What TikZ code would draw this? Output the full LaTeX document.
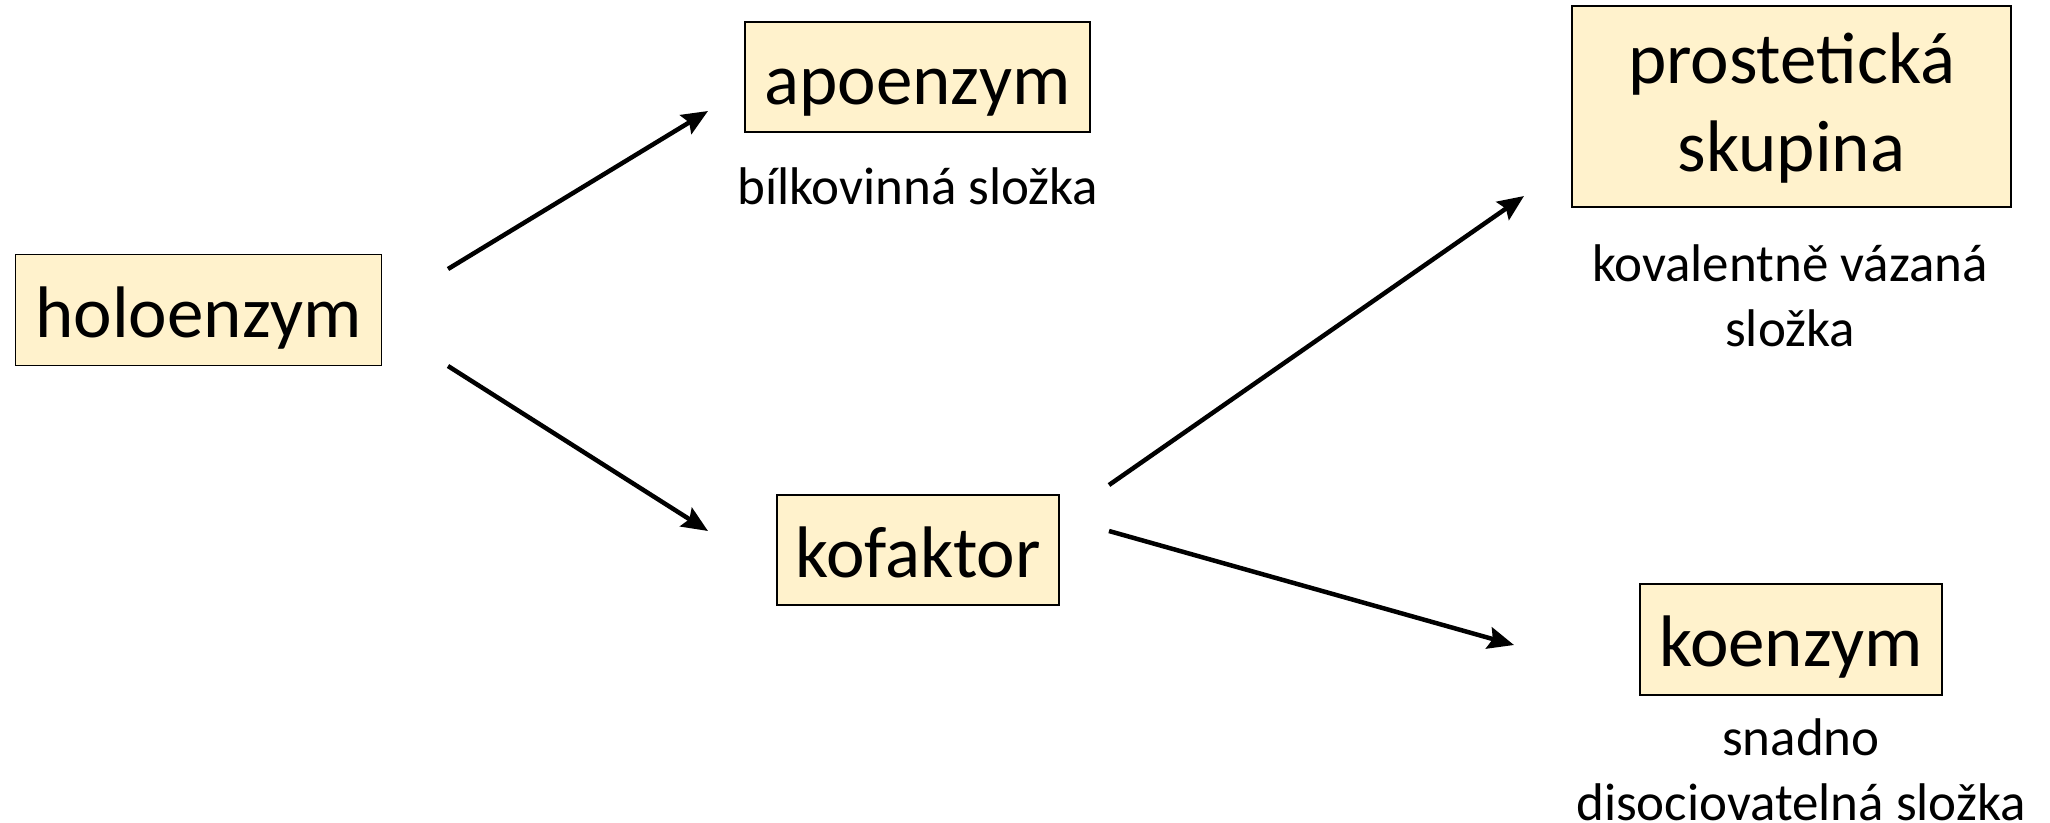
\documentclass[tikz,border=0pt]{standalone}
\usepackage{fontspec}
\setmainfont{Carlito}
\usetikzlibrary{arrows.meta}
\definecolor{boxfill}{HTML}{FFF2CC}
\tikzset{
  boxbase/.style={draw=black, line width=1.5pt, fill=boxfill, inner sep=0pt,
    align=center, font=\fontsize{73}{88}\selectfont},
  termbox/.style={boxbase, text height=56pt, text depth=2pt},
  note/.style={align=center, inner sep=0pt, font=\fontsize{53}{65}\selectfont},
  link/.style={line width=4.5pt, -{Stealth[length=26pt,width=22pt,inset=4pt]}}
}
\begin{document}
\begin{tikzpicture}[x=1pt,y=-1pt]
  \useasboundingbox (0,0) rectangle (2050,822);
  % enzyme parts
  \node[termbox, minimum width=366pt, minimum height=111pt] (holo) at (198.5,310) {holoenzym};
  \node[termbox, minimum width=345pt, minimum height=110pt] (apo) at (917.5,77) {apoenzym};
  \node[termbox, minimum width=282pt, minimum height=110pt] (kof) at (918,550) {kofaktor};
  \node[boxbase, text depth=8pt, minimum width=439pt, minimum height=201pt] (prost) at (1791.5,106.5) {prostetická\\skupina};
  \node[termbox, minimum width=302pt, minimum height=111pt] (koenz) at (1791,639.5) {koenzym};
  % descriptions
  \node[note] (apolbl) at (918,186) {bílkovinná složka};
  \node[note] (prostlbl) at (1790,296) {kovalentně vázaná\\složka};
  \node[note] (koenzlbl) at (1801,770) {snadno\\disociovatelná složka};
  % arrow end points
  \coordinate (h1) at (448,269);
  \coordinate (a1) at (708,111);
  \coordinate (h2) at (448,366);
  \coordinate (k1) at (708,531);
  \coordinate (k2) at (1109,485);
  \coordinate (p1) at (1524,196);
  \coordinate (k3) at (1109,531);
  \coordinate (e1) at (1514,645);
  \draw[link] (h1) -- (a1);
  \draw[link] (h2) -- (k1);
  \draw[link] (k2) -- (p1);
  \draw[link] (k3) -- (e1);
\end{tikzpicture}
\end{document}
